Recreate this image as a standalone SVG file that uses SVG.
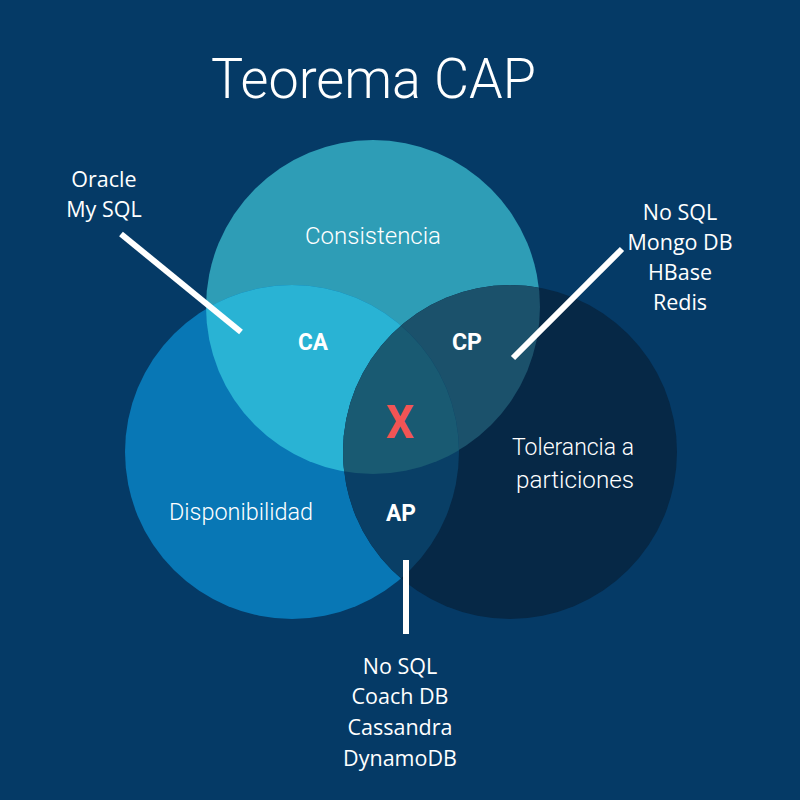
<svg xmlns="http://www.w3.org/2000/svg" width="800" height="800" viewBox="0 0 800 800">
<defs>
<style>
.title{font-family:Roboto,"Liberation Sans",sans-serif;font-weight:300;font-size:56px;fill:#fff;}
.lbl{font-family:Roboto,"Liberation Sans",sans-serif;font-weight:300;font-size:24px;fill:#fff;text-anchor:middle;}
.bold{font-family:Roboto,"Liberation Sans",sans-serif;font-weight:700;font-size:23px;fill:#fff;text-anchor:middle;}
.list{font-family:"Open Sans","Liberation Sans",sans-serif;font-size:21.5px;fill:#fff;text-anchor:middle;}
.conn{stroke:#fff;stroke-width:6;fill:none;}
</style>
<clipPath id="cTop"><circle cx="373" cy="307" r="167"/></clipPath>
<clipPath id="cLeft"><circle cx="292" cy="452" r="167"/></clipPath>
<clipPath id="cRight"><circle cx="510" cy="452" r="167"/></clipPath>
</defs>
<rect width="800" height="800" fill="#053a66"/>
<text class="title" x="211" y="98" textLength="325" lengthAdjust="spacingAndGlyphs">Teorema CAP</text>
<g id="consistencia">
<circle cx="373" cy="307" r="167" fill="#2e9db6"/>
<text class="lbl" x="373" y="244" textLength="136" lengthAdjust="spacingAndGlyphs">Consistencia</text>
</g>
<g id="disponibilidad">
<circle cx="292" cy="452" r="167" fill="#0877b5"/>
</g>
<g id="tolerancia">
<circle cx="510" cy="452" r="167" fill="#062846"/>
</g>
<g id="overlaps">
<circle cx="292" cy="452" r="167" fill="#29b3d4" clip-path="url(#cTop)"/>
<circle cx="510" cy="452" r="167" fill="#1b516b" clip-path="url(#cTop)"/>
<circle cx="510" cy="452" r="167" fill="#093f66" clip-path="url(#cLeft)"/>
<g clip-path="url(#cLeft)"><circle cx="510" cy="452" r="167" fill="#195a72" clip-path="url(#cTop)"/></g>
</g>
<g id="labels">
<text class="lbl" x="241" y="520" textLength="144" lengthAdjust="spacingAndGlyphs">Disponibilidad</text>
<text class="lbl" x="573" y="455" textLength="122" lengthAdjust="spacingAndGlyphs">Tolerancia a</text>
<text class="lbl" x="575" y="488" textLength="118" lengthAdjust="spacingAndGlyphs">particiones</text>
</g>
<g id="ca"><text class="bold" x="313" y="350" textLength="30" lengthAdjust="spacingAndGlyphs">CA</text></g>
<g id="cp"><text class="bold" x="467" y="350" textLength="30" lengthAdjust="spacingAndGlyphs">CP</text></g>
<g id="ap"><text class="bold" x="401" y="521" textLength="30" lengthAdjust="spacingAndGlyphs">AP</text></g>
<g id="x"><text x="400" y="438" text-anchor="middle" font-family="Roboto,'Liberation Sans',sans-serif" font-weight="700" font-size="46" fill="#f25454" textLength="28" lengthAdjust="spacingAndGlyphs">X</text></g>
<g id="connectors">
<line class="conn" x1="121" y1="234" x2="241" y2="332"/>
<line class="conn" x1="622" y1="249" x2="513" y2="358"/>
<line class="conn" x1="406" y1="560" x2="406" y2="634"/>
</g>
<g id="list-ca">
<text class="list" x="104" y="187">Oracle</text>
<text class="list" x="104" y="217">My SQL</text>
</g>
<g id="list-cp">
<text class="list" x="680" y="220">No SQL</text>
<text class="list" x="680" y="250">Mongo DB</text>
<text class="list" x="680" y="280">HBase</text>
<text class="list" x="680" y="310">Redis</text>
</g>
<g id="list-ap">
<text class="list" x="400" y="674">No SQL</text>
<text class="list" x="400" y="704">Coach DB</text>
<text class="list" x="400" y="735">Cassandra</text>
<text class="list" x="400" y="766">DynamoDB</text>
</g>
</svg>
